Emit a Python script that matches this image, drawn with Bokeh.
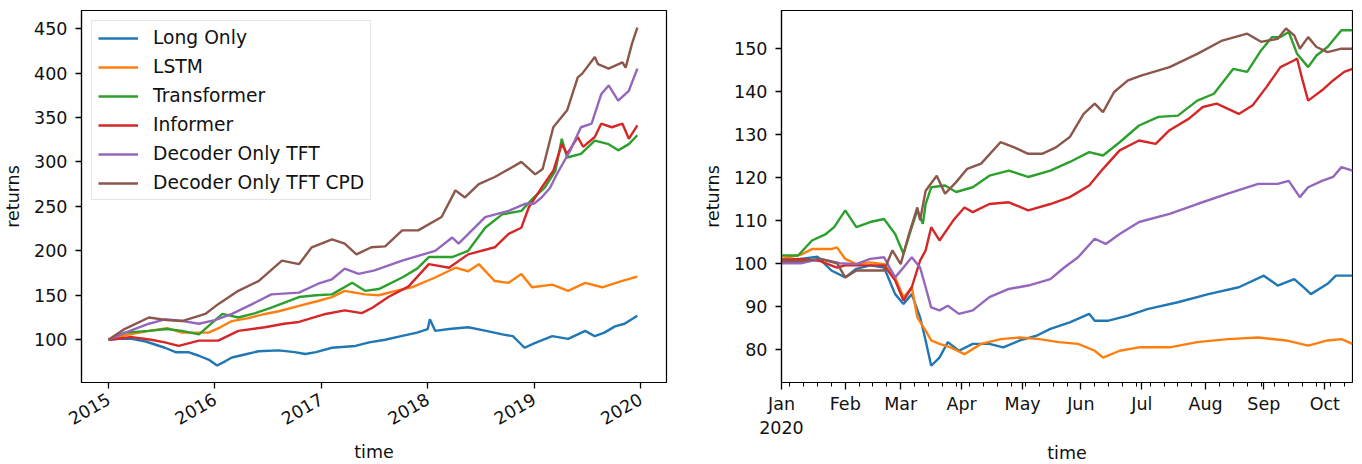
import math
import numpy as np
from bokeh.plotting import figure
from bokeh.layouts import row
from bokeh.models import Range1d, FixedTicker
from bokeh.embed import file_html
from bokeh.resources import INLINE

# ---------------- data: left panel (decimal year, value) ----------------
series_names = ["Long Only", "LSTM", "Transformer", "Informer",
                "Decoder Only TFT", "Decoder Only TFT CPD"]
colors = ["#1f77b4", "#ff7f0e", "#2ca02c", "#d62728", "#9467bd", "#8c564b"]

long_t = [2015.0, 2015.1, 2015.22, 2015.35, 2015.53, 2015.63, 2015.75, 2015.85, 2015.95, 2016.02,
          2016.1, 2016.16, 2016.3, 2016.41, 2016.6, 2016.75, 2016.85, 2016.95, 2017.1, 2017.32,
          2017.45, 2017.6, 2017.75, 2017.9, 2018.0, 2018.02, 2018.07, 2018.2, 2018.38, 2018.55,
          2018.7, 2018.8, 2018.91, 2019.0, 2019.17, 2019.32, 2019.48, 2019.57, 2019.66, 2019.76,
          2019.85, 2019.97]
long_v = [100, 101, 101, 98, 91, 86, 86, 82, 77, 71,
          76, 80, 84, 87, 88, 86, 84, 86, 91, 93,
          97, 100, 104, 108, 112, 123, 110, 112, 114, 110,
          106, 104, 91, 96, 104, 101, 110, 104, 108, 115,
          118, 127]

lstm_t = [2015.0, 2015.15, 2015.38, 2015.55, 2015.69, 2015.94, 2016.05, 2016.16, 2016.3, 2016.47,
          2016.6, 2016.79, 2016.95, 2017.1, 2017.22, 2017.41, 2017.54, 2017.7, 2017.85, 2018.07,
          2018.26, 2018.38, 2018.48, 2018.63, 2018.76, 2018.88, 2018.98, 2019.17, 2019.32, 2019.48,
          2019.64, 2019.82, 2019.97]
lstm_v = [100, 105, 110, 113, 108, 108, 114, 121, 124, 129,
          132, 138, 143, 148, 155, 151, 150, 155, 159, 170,
          181, 177, 185, 166, 164, 174, 159, 162, 155, 164,
          159, 166, 171]

trans_t = [2015.0, 2015.15, 2015.38, 2015.55, 2015.69, 2015.85, 2016.07, 2016.22, 2016.38, 2016.53,
           2016.79, 2016.95, 2017.1, 2017.29, 2017.41, 2017.54, 2017.76, 2017.9, 2018.01, 2018.23,
           2018.38, 2018.54, 2018.7, 2018.88, 2018.98, 2019.1, 2019.2, 2019.26, 2019.31, 2019.44,
           2019.57, 2019.7, 2019.79, 2019.89, 2019.97]
trans_v = [100, 108, 110, 112, 110, 106, 129, 125, 130, 136,
           148, 150, 151, 164, 155, 157, 170, 180, 193, 193,
           200, 226, 241, 245, 258, 271, 290, 326, 305, 309,
           324, 320, 313, 320, 330]

inf_t = [2015.0, 2015.22, 2015.4, 2015.53, 2015.66, 2015.85, 2016.03, 2016.22, 2016.47, 2016.65,
         2016.79, 2017.04, 2017.22, 2017.38, 2017.48, 2017.63, 2017.82, 2018.01, 2018.2, 2018.38,
         2018.63, 2018.76, 2018.88, 2018.95, 2019.07, 2019.18, 2019.26, 2019.31, 2019.41, 2019.46,
         2019.57, 2019.63, 2019.73, 2019.83, 2019.89, 2019.97]
inf_v = [100, 103, 100, 97, 93, 99, 99, 110, 114, 118,
         120, 129, 133, 130, 136, 148, 160, 185, 181, 196,
         204, 219, 226, 249, 271, 290, 320, 309, 328, 317,
         328, 343, 339, 343, 326, 341]

tft_t = [2015.0, 2015.2, 2015.38, 2015.53, 2015.7, 2015.85, 2016.0, 2016.16, 2016.35, 2016.53,
         2016.79, 2016.97, 2017.1, 2017.22, 2017.35, 2017.5, 2017.76, 2018.07, 2018.23, 2018.29,
         2018.54, 2018.76, 2018.92, 2019.0, 2019.07, 2019.15, 2019.2, 2019.25, 2019.34, 2019.44,
         2019.54, 2019.63, 2019.7, 2019.79, 2019.89, 2019.97]
tft_v = [100, 110, 118, 123, 121, 118, 122, 129, 140, 151,
         153, 163, 168, 180, 174, 178, 189, 200, 215, 208,
         238, 245, 253, 253, 260, 271, 283, 294, 313, 339,
         343, 376, 386, 369, 380, 405]

cpd_t = [2015.0, 2015.15, 2015.38, 2015.55, 2015.69, 2015.91, 2016.03, 2016.22, 2016.41, 2016.63,
         2016.79, 2016.91, 2017.1, 2017.22, 2017.33, 2017.47, 2017.6, 2017.76, 2017.91, 2018.13,
         2018.26, 2018.35, 2018.48, 2018.63, 2018.88, 2019.01, 2019.08, 2019.18, 2019.31, 2019.41,
         2019.45, 2019.57, 2019.6, 2019.7, 2019.83, 2019.86, 2019.92, 2019.97]
cpd_v = [100, 112, 125, 122, 121, 129, 140, 155, 166, 189,
         185, 204, 213, 208, 196, 204, 205, 223, 223, 238,
         268, 260, 275, 283, 300, 286, 292, 339, 358, 395,
         399, 418, 410, 405, 412, 406, 433, 451]

left_year_ticks = [2015, 2016, 2017, 2018, 2019, 2020]
left_y_ticks = [100, 150, 200, 250, 300, 350, 400, 450]

# ---------------- data: right panel (business-day index from 2020-01-01, value) ----------------
r_long_b = [0, 7, 13, 18, 23, 27, 32, 37, 41, 44, 47, 50, 52, 54, 57, 60, 64, 69, 75, 80,
            86, 92, 97, 104, 111, 113, 118, 125, 132, 143, 154, 165, 174, 179, 185, 189, 191, 197, 200, 206]
r_long_v = [100, 101, 101.5, 98.3, 96.7, 98.7, 99.5, 99, 92.8, 90.5, 92.8, 87.4, 82, 76.1, 78, 81.6, 79.6, 81.2, 81.2, 80.4,
            82, 83.1, 84.7, 86.2, 88.2, 86.6, 86.6, 87.8, 89.3, 90.9, 92.8, 94.4, 97.1, 94.8, 96.3, 94, 92.8, 95.2, 97.1, 97.1]

r_lstm_b = [0, 7, 11, 18, 20, 23, 27, 32, 37, 41, 44, 47, 49, 52, 54, 57, 61, 66, 72, 79,
            86, 93, 100, 107, 113, 116, 122, 129, 140, 150, 161, 172, 182, 190, 197, 202, 206]
r_lstm_v = [101, 102, 103.3, 103.3, 103.7, 101, 99.8, 100.2, 99.8, 96.7, 92, 94.4, 87.4, 84.3, 82, 81.2, 80.4, 78.8, 81.2, 82.3,
            82.7, 82.3, 81.6, 81.2, 79.6, 78, 79.6, 80.4, 80.4, 81.6, 82.3, 82.7, 82, 80.8, 82, 82.3, 81.2]

r_trans_b = [0, 6, 11, 16, 19, 23, 27, 32, 37, 41, 44, 47, 49, 51, 52, 54, 59, 63, 69, 75,
             82, 89, 97, 104, 111, 116, 122, 129, 136, 143, 150, 156, 163, 168, 173, 177, 180, 183, 186, 190,
             193, 197, 202, 206]
r_trans_v = [101.8, 101.8, 105.3, 106.8, 108.4, 112.3, 108.4, 109.6, 110.3, 106.8, 102.2, 108.4, 112.3, 109.2, 113.8, 117.7, 118.1, 116.6, 117.7, 120.4,
             121.6, 120.1, 121.6, 123.6, 125.9, 125.1, 128.2, 132.1, 134.1, 134.4, 137.9, 139.5, 145.3, 144.6, 149.6, 152.7, 152.7, 153.9, 148.8, 145.7,
             148.4, 150.4, 154.3, 154.3]

r_inf_b = [0, 7, 14, 20, 23, 29, 37, 41, 44, 47, 50, 52, 54, 57, 62, 66, 69, 75, 82, 89,
           97, 104, 111, 116, 122, 129, 135, 140, 147, 152, 157, 165, 170, 175, 180, 185, 186, 188, 190, 195,
           199, 203, 206]
r_inf_v = [100.8, 101, 100.5, 99, 99.5, 99.5, 99.5, 96, 91.3, 94.4, 100.6, 103, 108.4, 105.3, 110, 113, 111.9, 113.8, 114.2, 112.3,
           113.8, 115.4, 118.1, 122, 126.3, 128.6, 127.8, 131, 133.7, 136.4, 137.2, 134.8, 136.8, 141.1, 145.7, 147.3, 147.7, 142.6, 137.9, 140.3,
           142.6, 144.6, 145.3]

r_tft_b = [0, 7, 14, 21, 27, 32, 37, 39, 41, 44, 47, 50, 52, 54, 57, 60, 64, 69, 75, 82,
           89, 97, 102, 107, 113, 117, 122, 129, 140, 150, 161, 172, 179, 183, 187, 190, 195, 199, 202, 206]
r_tft_v = [100, 100, 101, 100, 99.8, 101, 101.4, 99, 96.7, 99, 101.4, 99, 94.4, 89.7, 89, 90.1, 88.2, 89, 92.1, 94,
           94.8, 96.3, 99, 101.4, 105.7, 104.5, 106.8, 109.6, 111.5, 113.8, 116.2, 118.5, 118.5, 119.2, 115.4, 117.7, 119.2, 120.1, 122.4, 121.6]

r_cpd_b = [0, 7, 14, 20, 23, 27, 32, 37, 40, 43, 46, 49, 50, 52, 56, 59, 63, 67, 72, 79,
           84, 89, 94, 99, 104, 109, 113, 116, 120, 125, 130, 140, 150, 159, 168, 173, 179, 182, 185, 187,
           190, 193, 197, 202, 206]
r_cpd_v = [100.5, 100.5, 101, 100, 96.7, 98.3, 98.3, 98.3, 103, 99.8, 106.8, 113, 110, 116.9, 120.4, 116.2, 118.9, 122, 123.2, 128.2,
           127, 125.5, 125.5, 127, 129.4, 134.8, 137.2, 135.2, 139.9, 142.6, 143.8, 145.7, 148.8, 151.9, 153.5, 151.6, 152.3, 154.7, 153.1, 150,
           152.7, 150.4, 149.2, 150, 150]

month_labels = ["Jan\n2020", "Feb", "Mar", "Apr", "May", "Jun", "Jul", "Aug", "Sep", "Oct"]
month_ticks = [0, 23, 43, 65, 87, 108, 130, 153, 174, 196]   # business-day index of month starts
week_ticks = list(range(3, 207, 5))                           # Mondays
right_y_ticks = [80, 90, 100, 110, 120, 130, 140, 150]

FONT = "DejaVu Sans"
FS = "17.5px"
TXT = "#111111"


def style_axes(p):
    p.xgrid.visible = False
    p.ygrid.visible = False
    p.outline_line_color = "black"
    p.outline_line_width = 1.2
    for ax in (p.xaxis[0], p.yaxis[0]):
        ax.axis_line_color = "black"
        ax.axis_line_width = 1.2
        ax.major_tick_line_color = "black"
        ax.major_tick_line_width = 1.3
        ax.major_tick_out = 6
        ax.major_tick_in = 0
        ax.minor_tick_line_color = "black"
        ax.minor_tick_line_width = 1.0
        ax.minor_tick_out = 3
        ax.minor_tick_in = 0
        ax.major_label_text_font = FONT
        ax.major_label_text_font_size = FS
        ax.major_label_text_color = TXT
        ax.axis_label_text_font = FONT
        ax.axis_label_text_font_size = FS
        ax.axis_label_text_font_style = "normal"
        ax.axis_label_text_color = TXT
        ax.major_label_standoff = 8
        ax.axis_label_standoff = 8


# ---------------- left figure ----------------
p1 = figure(frame_width=585, frame_height=372, output_backend="svg", toolbar_location=None,
            x_range=Range1d(2014.746, 2020.244), y_range=Range1d(51.9, 470.3),
            min_border_left=75, min_border_right=22, min_border_top=10, min_border_bottom=10,
            x_axis_label="time", y_axis_label="returns")
style_axes(p1)
p1.xaxis.ticker = FixedTicker(ticks=left_year_ticks, minor_ticks=[])
p1.xaxis.major_label_overrides = {t: str(t) for t in left_year_ticks}
p1.xaxis.major_label_orientation = math.pi / 6
p1.xaxis.major_label_standoff = 9
p1.xaxis.axis_label_standoff = 8
p1.yaxis.ticker = FixedTicker(ticks=left_y_ticks, minor_ticks=[])

left_data = [(long_t, long_v), (lstm_t, lstm_v), (trans_t, trans_v),
             (inf_t, inf_v), (tft_t, tft_v), (cpd_t, cpd_v)]
for (xs, ys), name, c in zip(left_data, series_names, colors):
    p1.line(xs, ys, line_color=c, line_width=2.4, legend_label=name)

lg = p1.legend[0]
lg.location = "top_left"
lg.margin = 10
lg.padding = 6
lg.spacing = 8
lg.glyph_width = 40
lg.glyph_height = 20
lg.label_height = 20
lg.label_standoff = 15
lg.label_text_font = FONT
lg.label_text_font_size = "18.7px"
lg.label_text_color = TXT
lg.border_line_color = "#cccccc"
lg.border_line_width = 1
lg.background_fill_alpha = 0.8

# ---------------- right figure ----------------
p2 = figure(frame_width=571, frame_height=372, output_backend="svg", toolbar_location=None,
            x_range=Range1d(0, 206), y_range=Range1d(72.2, 158.9),
            min_border_left=93, min_border_right=1, min_border_top=10, min_border_bottom=10,
            x_axis_label="time", y_axis_label="returns")
style_axes(p2)
p2.xaxis.ticker = FixedTicker(ticks=month_ticks, minor_ticks=week_ticks + month_ticks)
p2.xaxis.major_label_overrides = dict(zip(month_ticks, month_labels))
p2.yaxis.ticker = FixedTicker(ticks=right_y_ticks, minor_ticks=[])
p2.xaxis.major_tick_out = 7
p2.xaxis.minor_tick_out = 4
p2.xaxis.major_label_standoff = 4
p2.xaxis.axis_label_standoff = 2

right_data = [(r_long_b, r_long_v), (r_lstm_b, r_lstm_v), (r_trans_b, r_trans_v),
              (r_inf_b, r_inf_v), (r_tft_b, r_tft_v), (r_cpd_b, r_cpd_v)]
for (xs, ys), c in zip(right_data, colors):
    p2.line(xs, ys, line_color=c, line_width=2.4)

layout = row(p1, p2)
open("out.html", "w").write(file_html(layout, INLINE))
